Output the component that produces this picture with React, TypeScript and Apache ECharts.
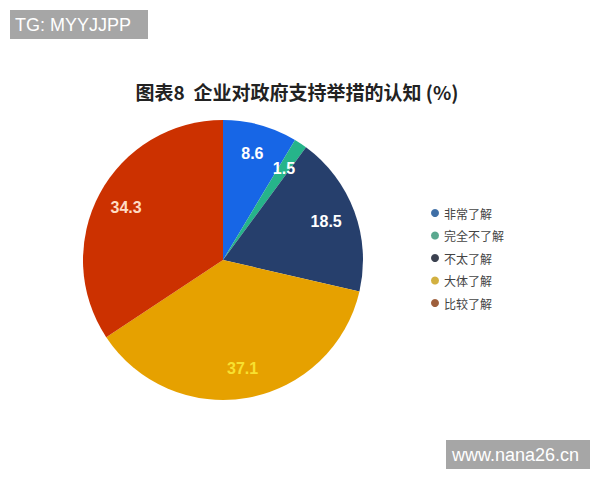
import React, { useEffect, useRef } from 'react';
import * as echarts from 'echarts';

const categories = ['非常了解', '完全不了解', '不太了解', '大体了解', '比较了解'];
const shares = [8.6, 1.5, 18.5, 37.1, 34.3];
const sliceColors = ['#1766e6', '#26b48a', '#263f6c', '#e6a100', '#cc3100'];
const legendColors = ['#3f6fa6', '#5aa88f', '#3b4150', '#d2b040', '#9e5f3c'];
const labelColors = ['#ffffff', '#ffffff', '#ffffff', '#f8e030', '#ffdcc4'];

export default function App() {
  const chartRef = useRef<HTMLDivElement>(null);

  useEffect(() => {
    if (!chartRef.current) return;
    const chart = echarts.init(chartRef.current, null, { renderer: 'svg' });

    const center = [223, 260];

    const option = {
      animation: false,
      backgroundColor: '#ffffff',
      title: {
        text: '图表8  企业对政府支持举措的认知 (%)',
        left: 292,
        top: 77,
        textAlign: 'center',
        textStyle: {
          fontFamily: 'Noto Sans CJK SC',
          fontSize: 19,
          fontWeight: 'bold',
          color: '#222222',
        },
      },
      legend: {
        orient: 'vertical',
        left: 426,
        top: 202,
        icon: 'circle',
        itemWidth: 8,
        itemHeight: 8,
        itemGap: 10.5,
        textStyle: {
          fontFamily: 'Noto Sans CJK SC',
          fontSize: 12,
          color: '#444444',
        },
        data: categories.map((name, i) => ({
          name,
          itemStyle: { color: legendColors[i] },
        })),
      },
      series: [
        {
          type: 'pie',
          center,
          radius: [0, 140],
          startAngle: 90,
          clockwise: true,
          silent: true,
          label: { show: false },
          labelLine: { show: false },
          data: categories.map((name, i) => ({
            name,
            value: shares[i],
            itemStyle: { color: sliceColors[i] },
          })),
        },
        {
          // transparent ring, used only to place the value labels
          type: 'pie',
          center,
          radius: [74, 140],
          startAngle: 90,
          clockwise: true,
          silent: true,
          itemStyle: { color: 'transparent' },
          label: {
            show: true,
            position: 'inside',
            fontFamily: 'Liberation Sans',
            fontSize: 16,
            fontWeight: 'bold',
            formatter: (p: any) => String(p.value),
          },
          labelLine: { show: false },
          data: categories.map((name, i) => ({
            name,
            value: shares[i],
            label: { color: labelColors[i] },
          })),
        },
      ],
      graphic: [
        {
          type: 'rect',
          shape: { x: 10, y: 10, width: 138, height: 29 },
          style: { fill: '#a6a6a6' },
        },
        {
          type: 'text',
          x: 15,
          y: 25,
          style: {
            text: 'TG: MYYJJPP',
            fill: '#ffffff',
            font: '18px "Liberation Sans"',
            textVerticalAlign: 'middle',
          },
        },
        {
          type: 'rect',
          shape: { x: 446, y: 440, width: 144, height: 29 },
          style: { fill: '#a6a6a6' },
        },
        {
          type: 'text',
          x: 452,
          y: 455,
          style: {
            text: 'www.nana26.cn',
            fill: '#ffffff',
            font: '18px "Liberation Sans"',
            textVerticalAlign: 'middle',
          },
        },
      ],
    };

    chart.setOption(option);
    return () => chart.dispose();
  }, []);

  return (
    <div
      ref={chartRef}
      style={{ position: 'fixed', left: 0, top: 0, width: '600px', height: '480px' }}
    />
  );
}
